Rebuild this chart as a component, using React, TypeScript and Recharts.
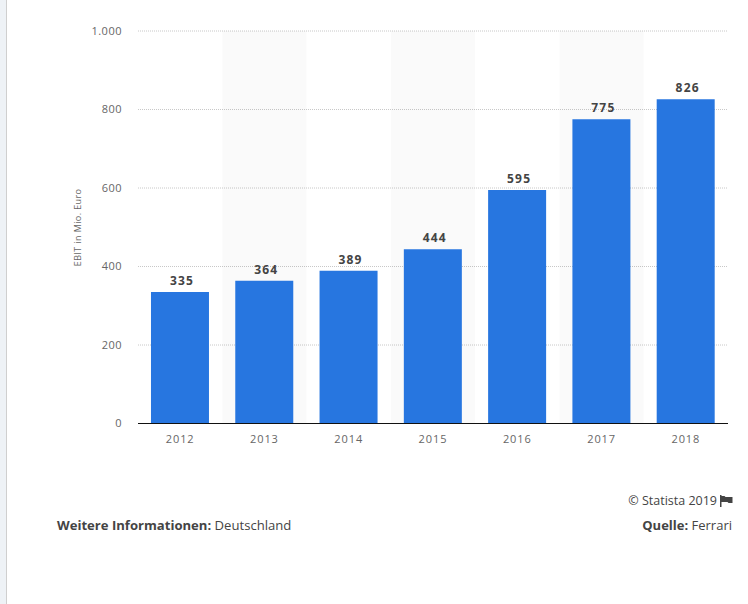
import React from 'react';
import { BarChart, Bar, XAxis, YAxis, CartesianGrid, LabelList, ReferenceArea } from 'recharts';

const years = ['2012', '2013', '2014', '2015', '2016', '2017', '2018'];
const ebit = [335, 364, 389, 444, 595, 775, 826];
const yTicks = [0, 200, 400, 600, 800, 1000];
const shadedBands = [1, 3, 5];
const rows = years.map((year, i) => ({ year, ebit: ebit[i], slot: i }));

const FONT = '"Open Sans", sans-serif';
const formatTick = (v: number) => (v >= 1000 ? v.toLocaleString('de-DE') : String(v));

export default function App() {
  return (
    <div style={{ position: 'absolute', left: 0, top: 0, width: 748, height: 604, background: '#fff', overflow: 'hidden', fontFamily: FONT }}>
      <div style={{ position: 'absolute', left: 0, top: 0, width: 6, height: 604, background: '#eef2f6', borderRight: '1px solid #cfcfcf' }} />
      <div style={{ position: 'absolute', left: 0, top: 0 }}>
        <BarChart width={748} height={470} data={rows} margin={{ top: 31, right: 20, bottom: 0, left: 0 }} barCategoryGap="15.4%">
          <CartesianGrid vertical={false} stroke="#c8c8c8" strokeDasharray="1 1" />
          <XAxis xAxisId="bands" dataKey="slot" type="number" domain={[0, years.length]} allowDataOverflow hide />
          {shadedBands.map((b) => (
            <ReferenceArea key={b} xAxisId="bands" x1={b} x2={b + 1} fill="#000" fillOpacity={0.02} stroke="none" />
          ))}
          <XAxis
            dataKey="year"
            height={46.5}
            tickSize={0}
            tickMargin={12}
            axisLine={{ stroke: '#111', strokeWidth: 1 }}
            tick={{ fontSize: 11, fill: '#666', fontFamily: FONT, letterSpacing: 0.9 }}
            interval={0}
          />
          <YAxis
            width={138}
            domain={[0, 1000]}
            ticks={yTicks}
            tickFormatter={formatTick}
            tickSize={0}
            tickMargin={16}
            axisLine={false}
            tick={{ fontSize: 11, fill: '#666', fontFamily: FONT, letterSpacing: 0.5 }}
            label={{ value: 'EBIT in Mio. Euro', angle: -90, position: 'insideLeft', offset: 78, dy: 39, style: { fontSize: 9, fill: '#666', fontFamily: FONT, letterSpacing: 0.4 } }}
          />
          <Bar dataKey="ebit" fill="#2776e0" isAnimationActive={false}>
            <LabelList dataKey="ebit" position="top" offset={7} dx={2} style={{ fontSize: 12, fontWeight: 700, fill: '#444', fontFamily: FONT, letterSpacing: 1.2 }} />
          </Bar>
        </BarChart>
      </div>
      <div style={{ position: 'absolute', left: 57, top: 517, fontSize: 13.1, color: '#444', lineHeight: '17px', whiteSpace: 'nowrap' }}>
        <b>Weitere Informationen:</b> Deutschland
      </div>
      <div style={{ position: 'absolute', right: 16, top: 517, fontSize: 13, color: '#444', lineHeight: '17px', whiteSpace: 'nowrap' }}>
        <b>Quelle:</b> Ferrari
      </div>
      <div style={{ position: 'absolute', right: 15, top: 492, fontSize: 12.5, color: '#444', lineHeight: '17px', whiteSpace: 'nowrap', display: 'flex', alignItems: 'center', gap: 3 }}>
        <span>© Statista 2019</span>
        <svg width={13} height={12} viewBox="0 0 13 12">
          <path d="M0 0h1.5v12H0z M1.5 1h3l1 1h7v6h-4l-1-1h-6z" fill="#444" />
        </svg>
      </div>
    </div>
  );
}
